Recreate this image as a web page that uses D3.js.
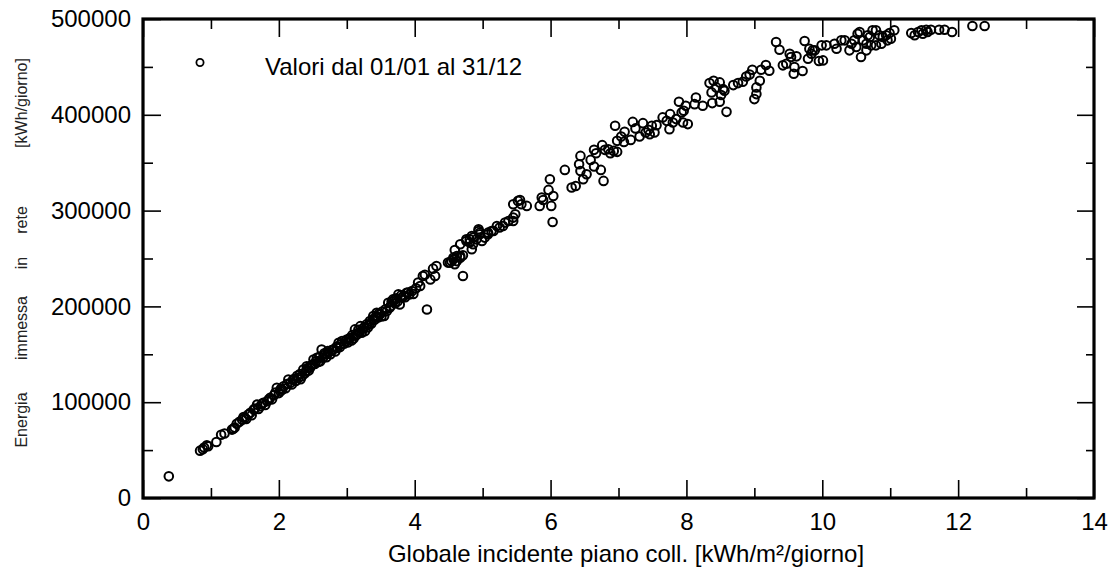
<!DOCTYPE html>
<html><head><meta charset="utf-8">
<script src="https://cdn.jsdelivr.net/npm/d3@7"></script>
<style>
body{margin:0;background:#fff;}
svg{display:block;font-family:"Liberation Sans",Arial,sans-serif;}
</style></head>
<body><svg id="c" width="1109" height="569"></svg>
<script>
// Global irradiance on collector plane [kWh/m²/day]
const irradiance = [
0.38,0.84,0.88,0.90,0.94,0.96,1.08,1.15,1.20,1.31,1.33,1.35,1.38,1.46,1.50,1.52,1.55,1.58,1.60,1.63,
1.68,1.70,1.73,1.77,1.80,1.85,1.87,1.90,1.97,2.00,2.02,2.05,2.07,2.10,2.14,2.17,2.19,2.21,2.25,2.29,
2.32,2.34,2.36,2.38,2.41,2.44,2.46,2.48,2.51,2.53,2.56,2.58,2.61,2.63,2.65,2.68,2.70,2.73,2.76,2.80,
2.83,2.85,2.88,2.90,2.93,2.96,3.00,3.02,3.05,3.08,3.10,3.12,3.15,3.18,3.20,3.23,3.27,3.29,3.31,3.34,
3.36,3.39,3.41,3.44,3.46,3.49,3.52,3.55,3.59,3.61,3.64,3.66,3.68,3.71,3.73,3.76,3.78,3.81,3.84,3.88,
3.92,3.96,4.02,4.08,4.12,4.18,4.23,4.27,4.30,4.32,4.49,4.52,4.54,4.57,4.57,4.59,4.59,4.62,4.62,4.67,
4.67,4.67,4.71,4.71,4.76,4.76,4.81,4.81,4.84,4.84,4.86,4.86,4.91,4.94,4.94,4.96,4.96,4.99,5.03,5.08,
5.08,5.13,5.16,5.21,5.25,5.30,5.33,5.38,5.45,5.45,5.48,5.45,5.52,5.55,5.57,5.65,5.84,5.87,5.89,5.97,
5.99,6.01,6.04,6.03,6.21,6.31,6.37,6.42,6.44,6.44,6.48,6.53,6.59,6.64,6.64,6.67,6.74,6.76,6.78,6.80,
6.85,6.88,6.93,6.95,6.98,6.98,7.04,7.08,7.09,7.18,7.21,7.25,7.31,7.36,7.40,7.44,7.46,7.49,7.53,7.56,
7.65,7.71,7.75,7.76,7.80,7.85,7.89,7.93,7.95,7.96,7.99,8.02,8.12,8.14,8.24,8.34,8.37,8.38,8.40,8.44,
8.49,8.49,8.51,8.54,8.56,8.59,8.69,8.76,8.83,8.88,8.93,8.97,9.00,9.03,9.03,9.08,9.10,9.17,9.22,9.32,
9.37,9.42,9.47,9.52,9.54,9.58,9.59,9.62,9.71,9.74,9.79,9.81,9.84,9.86,9.89,9.95,9.99,10.01,10.06,
10.18,10.21,10.28,10.33,10.40,10.43,10.47,10.50,10.52,10.55,10.57,10.60,10.65,10.65,10.67,10.70,10.72,10.74,10.79,10.79,
10.84,10.87,10.89,10.94,10.96,10.99,11.01,11.06,11.31,11.36,11.41,11.46,11.48,11.53,11.55,11.60,11.72,11.80,11.91,12.21,
12.39,
1.42,1.48,1.65,1.75,1.83,1.93,1.95,2.03,2.12,2.23,2.27,2.31,2.40,2.43,2.50,2.55,2.60,2.67,2.72,2.78,
2.86,2.91,2.98,3.03,3.07,3.13,3.17,3.22,3.26,3.33,3.38,3.43,3.47,3.51,3.57,3.63,3.70,3.75,3.80,3.86,
3.90,3.98,4.05,4.15
];
// Energy fed into grid [kWh/day]
const energy = [
22600,49400,51000,52600,55000,54000,58500,66000,67300,71400,72400,73500,77400,81800,83600,82500,87100,88900,86500,92300,
97500,93000,95800,99300,97000,102800,104500,103000,115000,109500,111400,113000,116700,114500,123700,120200,118500,123700,122000,125400,
124000,127100,134100,130000,137600,133000,135900,138500,144600,140000,146300,142000,142800,155000,146500,149800,147000,151600,150000,155000,
153000,158000,162000,157500,163800,161000,165500,162500,167300,170000,166500,176000,170700,173000,179400,176500,174200,181200,178000,184700,
182000,189900,186000,193400,188500,191700,194500,190000,195100,203800,200000,205000,207300,203000,208500,212600,202100,209000,211000,214300,
212500,216000,219000,221300,231700,196800,228200,239400,231700,242100,245700,245700,247300,250900,249100,244100,258800,252600,247300,264800,
250900,252600,253300,231700,268300,270000,266600,270000,259600,273500,264800,271800,270000,278700,280500,277000,275300,268300,271800,277000,
275300,278700,278700,283900,282300,283900,287500,289200,289200,292700,296200,306600,310100,311100,306600,304900,304900,313600,311100,321600,
332700,304900,315300,288100,342500,324100,325700,348400,341400,357100,332700,338000,352900,346000,363400,359900,342500,368300,331000,363400,
364100,359900,362300,388500,361300,372800,377400,371700,382200,373800,392600,385800,377400,391300,381600,384300,379800,388500,381600,389200,
397300,393700,385000,400700,392000,395500,413600,402500,392000,404200,409400,390300,411100,418100,409400,433100,423400,412200,435500,428600,
413600,433800,420600,426800,425100,403100,431000,433100,434500,440000,442000,447000,416400,421600,428600,435500,447000,452000,446000,476000,
467900,451600,453300,463800,460300,442800,449800,461000,445700,477000,458500,469000,463800,467300,467300,456100,472500,456800,472500,
474200,469000,477700,477700,467300,474200,477700,470700,484600,486400,460300,477700,467300,474200,483000,481200,472500,488200,488200,472500,
483000,474200,481200,483000,477700,485300,479500,488200,485300,483000,486400,488200,484600,488800,486400,488800,488800,488800,486400,492700,
492700,
79500,84500,93500,98000,101000,107500,110000,114000,119000,124500,127500,129500,132500,136000,139500,143000,147500,151000,153500,154500,
156500,160500,163500,166000,164500,169500,175500,172500,178500,181000,186500,189000,192500,189500,197000,198500,206500,205500,211500,209500,
214500,213000,225000,233000
];
const xMajor = [0,2,4,6,8,10,12,14];
const xMinor = [1,3,5,7,9,11,13];
const yMajor = [0,100000,200000,300000,400000,500000];
const yMinor = [50000,150000,250000,350000,450000];
const xTitle = "Globale incidente piano coll. [kWh/m²/giorno]";
const yTitleWords = ["Energia","immessa","in","rete","[kWh/giorno]"];
const legendText = "Valori dal 01/01 al 31/12";

const svg = d3.select("#c");
const L=143, R=1094, T=19, B=498;
const x = d3.scaleLinear().domain([0,14]).range([L,R]);
const y = d3.scaleLinear().domain([0,500000]).range([B,T]);
const FS = 24;

function styleAxis(g){
  g.select(".domain").remove();
  g.selectAll(".tick line").attr("stroke","#000").attr("stroke-width",1.6);
  g.selectAll(".tick text").attr("fill","#000").attr("font-size",FS).attr("font-family",'"Liberation Sans",Arial,sans-serif');
}
// bottom
svg.append("g").attr("transform",`translate(0,${B})`)
  .call(d3.axisBottom(x).tickValues(xMajor).tickSize(-18).tickPadding(15).tickFormat(d3.format("d"))).call(styleAxis);
svg.append("g").attr("transform",`translate(0,${B})`)
  .call(d3.axisBottom(x).tickValues(xMinor).tickSize(-10).tickFormat("")).call(styleAxis);
// top
svg.append("g").attr("transform",`translate(0,${T})`)
  .call(d3.axisTop(x).tickValues(xMajor).tickSize(-18).tickFormat("")).call(styleAxis);
svg.append("g").attr("transform",`translate(0,${T})`)
  .call(d3.axisTop(x).tickValues(xMinor).tickSize(-10).tickFormat("")).call(styleAxis);
// left
svg.append("g").attr("transform",`translate(${L},0)`)
  .call(d3.axisLeft(y).tickValues(yMajor).tickSize(-18).tickPadding(12).tickFormat(d3.format("d"))).call(styleAxis);
svg.append("g").attr("transform",`translate(${L},0)`)
  .call(d3.axisLeft(y).tickValues(yMinor).tickSize(-10).tickFormat("")).call(styleAxis);
// right
svg.append("g").attr("transform",`translate(${R},0)`)
  .call(d3.axisRight(y).tickValues(yMajor).tickSize(-17).tickFormat("")).call(styleAxis);
svg.append("g").attr("transform",`translate(${R},0)`)
  .call(d3.axisRight(y).tickValues(yMinor).tickSize(-8).tickFormat("")).call(styleAxis);

// frame
svg.append("rect").attr("x",L).attr("y",T).attr("width",R-L).attr("height",B-T)
  .attr("fill","none").attr("stroke","#000").attr("stroke-width",3.2);

// points
const pts = irradiance.map((v,i)=>[v,energy[i]]);
svg.append("g").selectAll("circle").data(pts).join("circle")
  .attr("cx",d=>x(d[0])).attr("cy",d=>y(d[1])).attr("r",4.3)
  .attr("fill","none").attr("stroke","#000").attr("stroke-width",2);

// legend
svg.append("circle").attr("cx",200).attr("cy",62.5).attr("r",3.6)
  .attr("fill","none").attr("stroke","#000").attr("stroke-width",1.8);
svg.append("text").attr("x",265).attr("y",75).attr("font-size",FS).text(legendText);

// x title
svg.append("text").attr("x",(376+876)/2).attr("y",562).attr("text-anchor","middle")
  .attr("font-size",FS).text(xTitle);

// y title (spread words)
const yWordCenters = [420,328,263,220,103];
yTitleWords.forEach((w,i)=>{
  svg.append("text").attr("transform",`translate(27,${yWordCenters[i]}) rotate(-90)`)
    .attr("text-anchor","middle").attr("font-size",16).attr("fill","#222").text(w);
});
</script></body></html>
